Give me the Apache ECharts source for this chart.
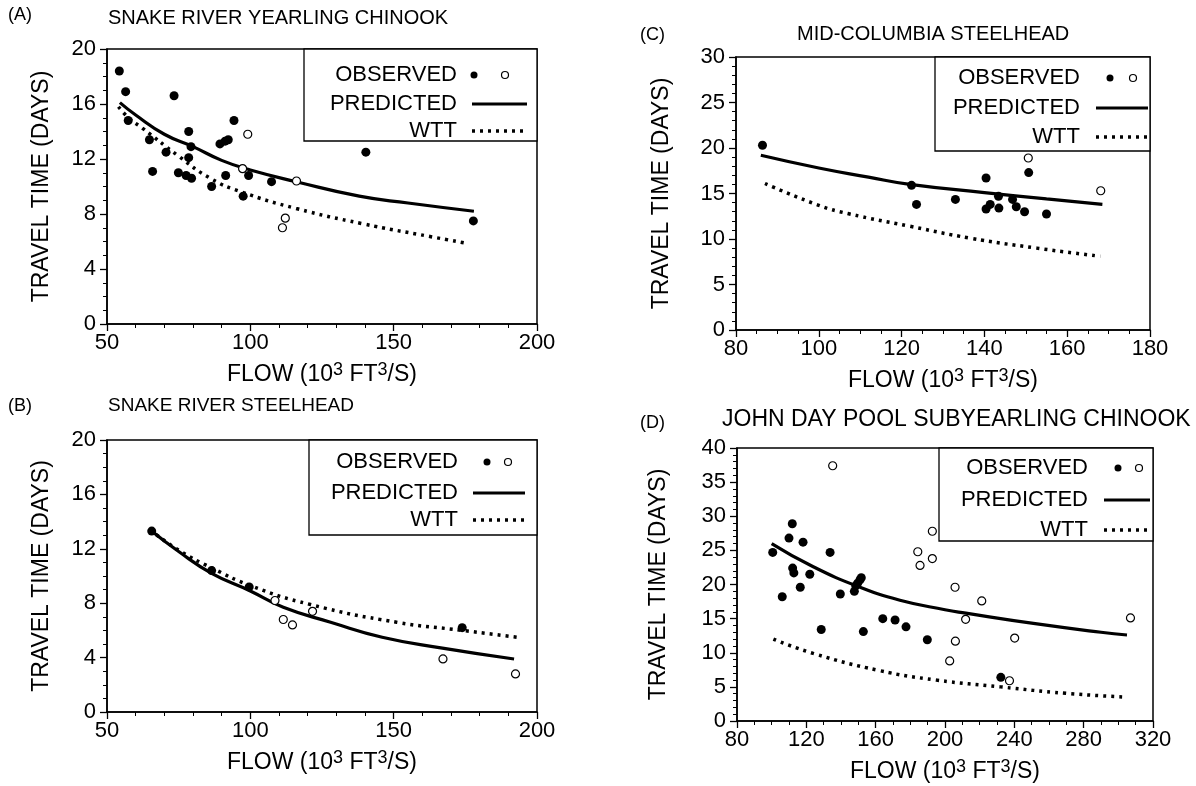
<!DOCTYPE html>
<html><head><meta charset="utf-8">
<script src="https://cdn.jsdelivr.net/npm/echarts/dist/echarts.min.js"></script>
<style>html,body{margin:0;padding:0;background:#fff}#c{width:1196px;height:786px}</style>
</head><body><div id="c"></div>
<script>
// ---------- DATA ----------
// (A) Snake River yearling chinook
const aFilled = [[54.3,18.4],[56.5,16.9],[57.4,14.8],[64.8,13.4],[65.9,11.1],[70.6,12.5],[73.4,16.6],[74.9,11.0],[77.6,10.8],[78.5,14.0],[78.5,12.1],[79.3,12.9],[79.5,10.6],[86.5,10.0],[89.4,13.1],[91.2,13.3],[92.3,13.4],[91.4,10.8],[94.3,14.8],[97.5,9.3],[99.4,10.8],[107.4,10.35],[140.3,12.5],[177.8,7.5]];
const aOpen = [[97.3,11.3],[99.1,13.8],[111.2,7.0],[112.2,7.7],[116.1,10.4]];
const aPred = [[54.5,16.1],[60,15.2],[70,13.8],[80,12.9],[90,11.9],[100,11.2],[116,10.35],[138,9.3],[155,8.8],[178,8.2]];
const aWtt = [[54,15.8],[58,14.9],[62,14.3],[75,12.2],[86,10.6],[97,9.6],[116,8.4],[139,7.3],[163,6.35],[176,5.85]];
// (B) Snake River steelhead
const bFilled = [[65.6,13.3],[86.5,10.4],[99.6,9.2],[173.9,6.2]];
const bOpen = [[108.6,8.2],[111.5,6.8],[114.7,6.4],[121.7,7.4],[167.2,3.9],[192.5,2.8]];
const bPred = [[65,13.4],[75,11.8],[86.5,10.2],[100,8.9],[111.5,7.7],[128,6.6],[146,5.5],[167,4.7],[192,3.9]];
const bWtt = [[65,13.4],[75,11.9],[86.5,10.6],[100,9.3],[121,7.9],[151,6.6],[174,6.0],[193,5.5]];
// (C) Mid-Columbia steelhead
const cFilled = [[86.4,20.3],[122.4,15.9],[123.6,13.8],[133,14.35],[140.4,16.7],[140.4,13.3],[141.4,13.8],[143.5,13.4],[143.4,14.7],[146.8,14.35],[147.7,13.55],[149.7,13.0],[150.7,17.3],[155,12.75]];
const cOpen = [[150.6,18.9],[168.1,15.3]];
const cPred = [[86,19.2],[100,17.8],[112,16.8],[122,16.0],[140,15.1],[155,14.4],[168.5,13.8]];
const cWtt = [[87,16.1],[100,13.7],[107,12.8],[122,11.4],[136.5,10.1],[152.6,9.0],[168,8.1]];
// (D) John Day pool subyearling chinook
const dFilled = [[100.6,24.7],[106.1,18.2],[110,26.8],[111.9,28.9],[112.1,22.4],[112.8,21.7],[116.5,19.6],[118.1,26.2],[122,21.5],[128.6,13.4],[133.7,24.7],[139.6,18.6],[147.7,19.0],[148.5,19.8],[149.6,20.2],[151,20.7],[151.7,21.0],[152.9,13.1],[164.1,15.0],[171.2,14.8],[177.5,13.8],[189.8,11.9],[232.2,6.4]];
const dOpen = [[135.2,37.4],[184.3,24.8],[185.6,22.8],[192.7,27.8],[192.7,23.8],[202.7,8.8],[205.8,19.6],[206,11.7],[211.9,14.9],[221.2,17.6],[237.2,5.9],[240.2,12.15],[307,15.1]];
const dPred = [[100,26.0],[124,22.6],[151,19.6],[174,17.7],[200,16.3],[212,15.8],[251,14.3],[290,13.0],[305,12.6]];
const dWtt = [[101,12.0],[124,9.9],[162,7.4],[195,6.0],[232,5.0],[270,4.05],[305,3.5]];

const panelTitles = ['SNAKE RIVER YEARLING CHINOOK','SNAKE RIVER STEELHEAD','MID-COLUMBIA STEELHEAD','JOHN DAY POOL SUBYEARLING CHINOOK'];
const panelTags = ['(A)','(B)','(C)','(D)'];
const legendLabels = ['OBSERVED','PREDICTED','WTT'];
const yName = 'TRAVEL TIME (DAYS)';
const xName = 'FLOW (10{s|3} FT{s|3}/S)';

// ---------- LAYOUT ----------
const FF = '"Liberation Sans", Arial, Helvetica, sans-serif';
const panels = [
  {grid:{left:107,top:49,width:430,height:275}, x:[50,200,50,5], y:[0,20,4,4], yGap:54,
   data:[aFilled,aOpen,aPred,aWtt], title:[108,20,20], tag:[8,17],
   leg:{box:[304,49,537,141], rows:[75,104,131], tr:457, d1:474, d2:505, l:[472,527]}},
  {grid:{left:107,top:440,width:430,height:272}, x:[50,200,50,5], y:[0,20,4,4], yGap:54,
   data:[bFilled,bOpen,bPred,bWtt], title:[108,408,19], tag:[8,408],
   leg:{box:[309,440,537,535], rows:[462,493,520], tr:458, d1:487, d2:508, l:[473,525]}},
  {grid:{left:736,top:57,width:414,height:273}, x:[80,180,20,4], y:[0,30,5,5], yGap:63,
   data:[cFilled,cOpen,cPred,cWtt], title:[797,36,20], tag:[640,37],
   leg:{box:[935,57,1150,151], rows:[78,108,137], tr:1080, d1:1110, d2:1133, l:[1096,1148]}},
  {grid:{left:737,top:448,width:416,height:273}, x:[80,320,40,4], y:[0,40,5,5], yGap:67,
   data:[dFilled,dOpen,dPred,dWtt], title:[722,422,23], tag:[640,425],
   leg:{box:[939,448,1153,541], rows:[468,500,530], tr:1088, d1:1118, d2:1139, l:[1104,1150]}}
];

const grids=[], xAxes=[], yAxes=[], series=[], graphics=[];
const axCommon = (min,max,interval,split)=>({
  type:'value', min, max, interval,
  axisLine:{show:true,onZero:false,lineStyle:{color:'#000',width:1.5}},
  axisTick:{show:true,inside:false,length:7,lineStyle:{color:'#000',width:1.3}},
  minorTick:{show:true,splitNumber:split,length:4,lineStyle:{color:'#000',width:1}},
  splitLine:{show:false}, minorSplitLine:{show:false},
  axisLabel:{color:'#000',fontSize:22,fontFamily:FF},
});
panels.forEach((p,i)=>{
  grids.push(Object.assign({show:true,borderColor:'#000',borderWidth:1.5,backgroundColor:'transparent'},p.grid));
  const xa = axCommon(p.x[0],p.x[1],p.x[2],p.x[3]);
  xa.gridIndex=i; xa.axisLabel.margin=8;
  xa.name=xName; xa.nameLocation='middle'; xa.nameGap=37;
  xa.nameTextStyle={color:'#000',fontSize:23,fontFamily:FF,rich:{s:{fontSize:18,fontFamily:FF,color:'#000',verticalAlign:'top',padding:[0,0,9,0]}}};
  xAxes.push(xa);
  const ya = axCommon(p.y[0],p.y[1],p.y[2],p.y[3]);
  ya.gridIndex=i; ya.axisLabel.margin=11;
  ya.name=yName; ya.nameLocation='middle'; ya.nameGap=p.yGap; ya.nameRotate=90;
  ya.nameTextStyle={color:'#000',fontSize:23,fontFamily:FF};
  yAxes.push(ya);
  const [f,o,pr,w]=p.data;
  series.push({type:'line',xAxisIndex:i,yAxisIndex:i,data:pr,smooth:true,showSymbol:false,symbol:'none',lineStyle:{color:'#000',width:3.2},z:3});
  series.push({type:'line',xAxisIndex:i,yAxisIndex:i,data:w,smooth:true,showSymbol:false,symbol:'none',lineStyle:{color:'#000',width:3.5,type:[3,5],cap:'butt'},z:3});
  series.push({type:'scatter',xAxisIndex:i,yAxisIndex:i,data:f,symbol:'circle',symbolSize:9,itemStyle:{color:'#000',opacity:1},z:4});
  series.push({type:'scatter',xAxisIndex:i,yAxisIndex:i,data:o,symbol:'circle',symbolSize:8,itemStyle:{color:'#fff',borderColor:'#000',borderWidth:1.2,opacity:1},z:4});
  // titles
  graphics.push({type:'text',left:p.title[0],top:p.title[1]-p.title[2]*0.6,style:{text:panelTitles[i],font:p.title[2]+'px '+FF,fill:'#000'}});
  graphics.push({type:'text',left:p.tag[0],top:p.tag[1]-11,style:{text:panelTags[i],font:'18px '+FF,fill:'#000'}});
  // legend box
  const L=p.leg;
  graphics.push({type:'rect',shape:{x:L.box[0],y:L.box[1],width:L.box[2]-L.box[0],height:L.box[3]-L.box[1]},style:{fill:'#fff',stroke:'#000',lineWidth:1.3},z:10});
  L.rows.forEach((ry,k)=>{
    graphics.push({type:'text',x:L.tr,y:ry,style:{text:legendLabels[k],font:'22px '+FF,fill:'#000',textAlign:'right',textVerticalAlign:'middle'},z:11});
  });
  graphics.push({type:'circle',shape:{cx:L.d1,cy:L.rows[0],r:3.5},style:{fill:'#000'},z:11});
  graphics.push({type:'circle',shape:{cx:L.d2,cy:L.rows[0],r:3.5},style:{fill:'#fff',stroke:'#000',lineWidth:1.2},z:11});
  graphics.push({type:'line',shape:{x1:L.l[0],y1:L.rows[1],x2:L.l[1],y2:L.rows[1]},style:{stroke:'#000',lineWidth:3.2},z:11});
  graphics.push({type:'line',shape:{x1:L.l[0],y1:L.rows[2],x2:L.l[1],y2:L.rows[2]},style:{stroke:'#000',lineWidth:3.5,lineDash:[3,5]},z:11});
});

const chart = echarts.init(document.getElementById('c'),null,{renderer:'canvas'});
chart.setOption({backgroundColor:'#fff',animation:false,grid:grids,xAxis:xAxes,yAxis:yAxes,series,graphic:graphics});
</script></body></html>
